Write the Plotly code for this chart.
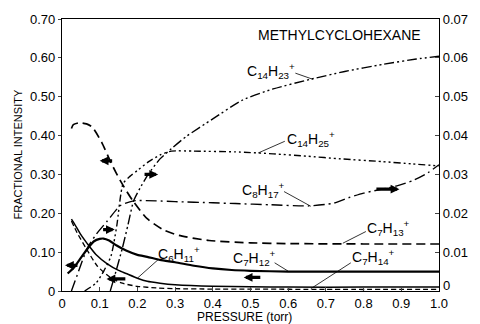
import plotly.graph_objects as go

# ---------------- data ----------------
# Left axis (0 - 0.70)
x_c7h13 = [0.025, 0.03, 0.046, 0.065, 0.08, 0.105, 0.13, 0.157, 0.188, 0.226, 0.27, 0.31, 0.39, 0.5, 0.6, 0.8, 1.0]
y_c7h13 = [0.418, 0.428, 0.433, 0.43, 0.422, 0.383, 0.33, 0.28, 0.232, 0.186, 0.157, 0.143, 0.13, 0.124, 0.122, 0.121, 0.121]

x_c6h11 = [0.025, 0.033, 0.05, 0.067, 0.09, 0.12, 0.15, 0.17, 0.2, 0.226, 0.26, 0.3, 0.4, 0.5, 0.6, 0.8, 1.0]
y_c6h11 = [0.185, 0.173, 0.145, 0.122, 0.094, 0.07, 0.053, 0.045, 0.033, 0.025, 0.02, 0.016, 0.012, 0.011, 0.01, 0.01, 0.01]

x_c7h12 = [0.015, 0.033, 0.05, 0.07, 0.085, 0.1, 0.11, 0.125, 0.145, 0.17, 0.2, 0.226, 0.26, 0.3, 0.35, 0.4, 0.45, 0.5, 0.6, 0.7, 0.8, 1.0]
y_c7h12 = [0.045, 0.062, 0.085, 0.112, 0.128, 0.134, 0.135, 0.13, 0.117, 0.104, 0.093, 0.088, 0.08, 0.074, 0.065, 0.058, 0.054, 0.052, 0.05, 0.05, 0.05, 0.05]

x_c7h14 = [0.025, 0.04, 0.065, 0.093, 0.128, 0.16, 0.2, 0.25, 0.3, 0.4, 0.5, 0.7, 1.0]
y_c7h14 = [0.18, 0.15, 0.108, 0.065, 0.035, 0.02, 0.012, 0.008, 0.006, 0.005, 0.005, 0.004, 0.004]

# Right axis (0 - 0.07)
x_c14h23 = [0.128, 0.14, 0.16, 0.175, 0.19, 0.21, 0.23, 0.26, 0.29, 0.33, 0.4, 0.48, 0.56, 0.66, 0.75, 0.85, 0.94, 1.0]
y_c14h23 = [0.0, 0.004, 0.011, 0.017, 0.0232, 0.027, 0.0302, 0.034, 0.0366, 0.0398, 0.0443, 0.0492, 0.052, 0.0545, 0.0565, 0.0583, 0.0597, 0.0604]

x_c14h25 = [0.06, 0.09, 0.11, 0.13, 0.145, 0.162, 0.18, 0.2, 0.23, 0.26, 0.29, 0.35, 0.46, 0.56, 0.65, 0.74, 0.85, 0.93, 1.0]
y_c14h25 = [0.0, 0.002, 0.005, 0.009, 0.0166, 0.0276, 0.0295, 0.031, 0.0333, 0.035, 0.036, 0.036, 0.0358, 0.0353, 0.0347, 0.034, 0.0333, 0.0327, 0.0322]

x_c8h17 = [0.025, 0.04, 0.067, 0.09, 0.12, 0.155, 0.19, 0.25, 0.3, 0.4, 0.46, 0.55, 0.655, 0.72, 0.76, 0.8, 0.886, 0.93, 0.97, 1.0]
y_c8h17 = [0.0, 0.004, 0.011, 0.0145, 0.018, 0.022, 0.0232, 0.0232, 0.023, 0.0227, 0.0225, 0.0222, 0.0219, 0.0226, 0.024, 0.0252, 0.027, 0.0284, 0.0304, 0.0325]

x_ticks = [0, 0.1, 0.2, 0.3, 0.4, 0.5, 0.6, 0.7, 0.8, 0.9, 1.0]
x_ticktext = ["0", "0.1", "0.2", "0.3", "0.4", "0.5", "0.6", "0.7", "0.8", "0.9", "1.0"]
yl_ticks = [0, 0.1, 0.2, 0.3, 0.4, 0.5, 0.6, 0.7]
yl_ticktext = ["0", "0.10", "0.20", "0.30", "0.40", "0.50", "0.60", "0.70"]
yr_ticks = [0, 0.01, 0.02, 0.03, 0.04, 0.05, 0.06, 0.07]
yr_ticktext = ["0", "0.01", "0.02", "0.03", "0.04", "0.05", "0.06", "0.07"]

FONT = "Liberation Sans, Arial, sans-serif"

fig = go.Figure()

def add(x, y, dash, width, axis="y"):
    fig.add_trace(go.Scatter(x=x, y=y, mode="lines", yaxis=axis,
                             line=dict(color="black", width=width, dash=dash, shape="spline", smoothing=0.6),
                             showlegend=False, hoverinfo="skip"))

add(x_c7h13, y_c7h13, "9px,5px", 1.7)
add(x_c6h11, y_c6h11, "solid", 1.5)
add(x_c7h12, y_c7h12, "solid", 2.2)
add(x_c7h14, y_c7h14, "5px,3px", 1.3)
add(x_c14h23, y_c14h23, "10px,3px,2px,3px,2px,3px", 1.4, "y2")
add(x_c14h25, y_c14h25, "7px,3px,2px,3px,2px,3px,2px,3px", 1.4, "y2")
add(x_c8h17, y_c8h17, "11px,4px,2px,4px", 1.4, "y2")

ann = []
# curve labels: text, text x, text y, pointer start, pointer end
labels = [
    ("C<sub>14</sub>H<sub>23</sub><sup>+</sup>", 0.555, 0.565, 0.615, 0.562, 0.665, 0.545),
    ("C<sub>14</sub>H<sub>25</sub><sup>+</sup>", 0.66, 0.39, 0.595, 0.387, 0.52, 0.355),
    ("C<sub>8</sub>H<sub>17</sub><sup>+</sup>", 0.535, 0.26, 0.585, 0.258, 0.66, 0.218),
    ("C<sub>7</sub>H<sub>13</sub><sup>+</sup>", 0.865, 0.163, 0.81, 0.155, 0.745, 0.123),
    ("C<sub>6</sub>H<sub>11</sub><sup>+</sup>", 0.31, 0.094, 0.26, 0.085, 0.2, 0.033),
    ("C<sub>7</sub>H<sub>12</sub><sup>+</sup>", 0.51, 0.085, 0.56, 0.075, 0.6, 0.051),
    ("C<sub>7</sub>H<sub>14</sub><sup>+</sup>", 0.825, 0.087, 0.77, 0.075, 0.66, 0.006),
]
for txt, tx, ty, lx0, ly0, lx1, ly1 in labels:
    ann.append(dict(x=tx, y=ty, xref="x", yref="y", text=txt, showarrow=False,
                    font=dict(family=FONT, size=14, color="black")))
    ann.append(dict(x=lx1, y=ly1, ax=lx0, ay=ly0, xref="x", yref="y", axref="x", ayref="y",
                    text="", showarrow=True, arrowhead=0, arrowwidth=0.8, arrowcolor="black"))

# axis-indicator arrows (head, tail)
arrows = [
    (0.10, 0.335, 0.137, 0.335),
    (0.255, 0.30, 0.215, 0.30),
    (0.14, 0.158, 0.105, 0.158),
    (0.008, 0.066, 0.045, 0.066),
    (0.118, 0.031, 0.172, 0.031),
    (0.482, 0.035, 0.53, 0.035),
    (0.895, 0.262, 0.83, 0.262),
]
for hx, hy, tx, ty in arrows:
    ann.append(dict(x=hx, y=hy, ax=tx, ay=ty, xref="x", yref="y", axref="x", ayref="y",
                    text="", showarrow=True, arrowhead=2, arrowsize=0.55, arrowwidth=3.2, arrowcolor="black"))

ann.append(dict(x=0.735, y=0.66, xref="x", yref="y", text="METHYLCYCLOHEXANE", showarrow=False,
                font=dict(family=FONT, size=14, color="black")))
ann.append(dict(x=-0.118, y=0.5, xref="paper", yref="paper", xanchor="center", yanchor="middle",
                text="FRACTIONAL INTENSITY", textangle=-90,
                showarrow=False, font=dict(family=FONT, size=11, color="black")))
ann.append(dict(x=0.483, y=-0.096, xref="paper", yref="paper", xanchor="center", yanchor="middle",
                text="PRESSURE (torr)",
                showarrow=False, font=dict(family=FONT, size=12, color="black")))
# right-axis zero label, raised slightly so it clears the "1.0" x tick label
ann.append(dict(x=1.0, y=yr_ticks[0], xref="paper", yref="y2", xanchor="left", yanchor="bottom",
                xshift=2, yshift=-4, text=yr_ticktext[0], showarrow=False,
                font=dict(family=FONT, size=13, color="black")))

fig.update_layout(
    width=480, height=324,
    margin=dict(l=62, r=29, t=19, b=33),
    paper_bgcolor="white", plot_bgcolor="white",
    font=dict(family=FONT, size=13, color="black"),
    showlegend=False,
    annotations=ann,
    xaxis=dict(range=[0, 1.0], tickvals=x_ticks, ticktext=x_ticktext, ticks="inside", ticklen=4,
               showline=True, linecolor="black", linewidth=1.2, mirror=True, showgrid=False, zeroline=False,
               tickfont=dict(size=13)),
    yaxis=dict(range=[0, 0.70], tickvals=yl_ticks, ticktext=yl_ticktext, ticks="outside", ticklen=3,
               showline=True, linecolor="black", linewidth=1.2, showgrid=False, zeroline=False,
               tickfont=dict(size=13)),
    yaxis2=dict(range=[0, 0.07], tickvals=yr_ticks[1:], ticktext=yr_ticktext[1:], ticks="inside", ticklen=4,
                overlaying="y", side="right", showline=True, linecolor="black", linewidth=1.2,
                showgrid=False, zeroline=False, tickfont=dict(size=13)),
)

fig.write_html("out.html")
